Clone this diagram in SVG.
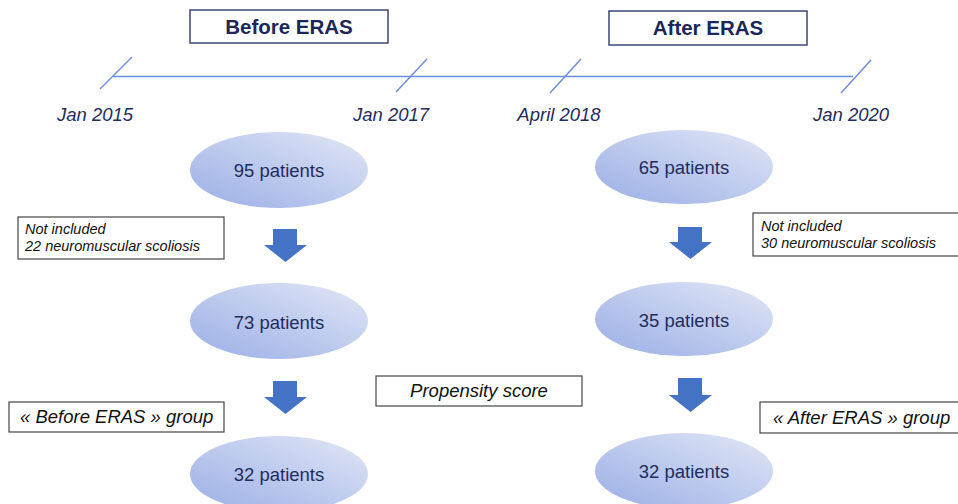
<svg xmlns="http://www.w3.org/2000/svg" width="958" height="504" viewBox="0 0 958 504">
<defs>
<linearGradient id="eg" x1="0" y1="1" x2="1" y2="0">
<stop offset="0" stop-color="#9aaee6"/>
<stop offset="1" stop-color="#e2e7f6"/>
</linearGradient>
<style>
.title{font-family:"Liberation Sans",Arial,sans-serif;font-weight:bold;font-size:20.5px;fill:#1b2759;text-anchor:middle}
.tbox{fill:#fff;stroke:#3d4670;stroke-width:1.5}
.date{font-family:"Liberation Sans",Arial,sans-serif;font-style:italic;font-size:18.5px;fill:#1f2c5e;text-anchor:middle}
.tl{stroke:#6e8ddb;stroke-width:1.5;fill:none}
.ell{fill:url(#eg)}
.num{font-family:"Liberation Sans",Arial,sans-serif;font-size:18.5px;fill:#1f2c5e;text-anchor:middle}
.nbox{fill:#fff;stroke:#444;stroke-width:1.2}
.note{font-family:"Liberation Sans",Arial,sans-serif;font-style:italic;font-size:14.5px;fill:#111}
.lab{font-family:"Liberation Sans",Arial,sans-serif;font-style:italic;font-size:18.5px;fill:#111}
.arr{fill:#4472c4}
</style>
</defs>
<rect width="958" height="504" fill="#fff"/>
<g id="before-title"><rect class="tbox" x="190" y="10" width="198" height="33"/><text class="title" x="289" y="34">Before ERAS</text></g>
<g id="after-title"><rect class="tbox" x="609" y="11" width="198" height="34"/><text class="title" x="708" y="35">After ERAS</text></g>
<g id="timeline">
<line class="tl" x1="113" y1="76.5" x2="853" y2="76.5"/>
<line class="tl" x1="100" y1="89" x2="132" y2="57"/>
<line class="tl" x1="396" y1="92" x2="427" y2="59"/>
<line class="tl" x1="550" y1="93" x2="581" y2="59"/>
<line class="tl" x1="841" y1="93" x2="871" y2="60"/>
</g>
<g id="dates">
<text class="date" x="95" y="121">Jan 2015</text>
<text class="date" x="391" y="121">Jan 2017</text>
<text class="date" x="559" y="121">April 2018</text>
<text class="date" x="851" y="121">Jan 2020</text>
</g>
<g id="n95"><ellipse class="ell" cx="279" cy="170" rx="89" ry="38"/><text class="num" x="279" y="177">95 patients</text></g>
<g id="n65"><ellipse class="ell" cx="684" cy="167" rx="89" ry="37"/><text class="num" x="684" y="174">65 patients</text></g>
<g id="n73"><ellipse class="ell" cx="279" cy="321" rx="89" ry="38"/><text class="num" x="279" y="329">73 patients</text></g>
<g id="n35"><ellipse class="ell" cx="684" cy="319" rx="89" ry="37"/><text class="num" x="684" y="327">35 patients</text></g>
<g id="n32a"><ellipse class="ell" cx="279" cy="474" rx="89" ry="38"/><text class="num" x="279" y="481">32 patients</text></g>
<g id="n32b"><ellipse class="ell" cx="684" cy="471" rx="89" ry="38"/><text class="num" x="684" y="478">32 patients</text></g>
<g id="connectors">
<polygon class="arr" points="273,229 297,229 297,245 307,245 285.5,262 264,245 273,245"/>
<polygon class="arr" points="273,381 297,381 297,397 307,397 285.5,414 264,397 273,397"/>
<polygon class="arr" points="678,227 702,227 702,242 712,242 690.5,259 669,242 678,242"/>
<polygon class="arr" points="678,378 702,378 702,395 712,395 690.5,412 669,395 678,395"/>
</g>
<g id="excl-left"><rect class="nbox" x="18" y="217" width="206" height="42"/><text class="note" x="25" y="234">Not included</text><text class="note" x="25" y="251">22 neuromuscular scoliosis</text></g>
<g id="excl-right"><rect class="nbox" x="753" y="213" width="210" height="43"/><text class="note" x="761" y="231">Not included</text><text class="note" x="761" y="248">30 neuromuscular scoliosis</text></g>
<g id="before-group"><rect class="nbox" x="9" y="402" width="215" height="30"/><text class="lab" x="20" y="423">« Before ERAS » group</text></g>
<g id="propensity"><rect class="nbox" x="376" y="376" width="206" height="30"/><text class="lab" x="479" y="397" text-anchor="middle">Propensity score</text></g>
<g id="after-group"><rect class="nbox" x="760" y="402" width="205" height="31"/><text class="lab" x="773" y="424">« After ERAS » group</text></g>
</svg>
